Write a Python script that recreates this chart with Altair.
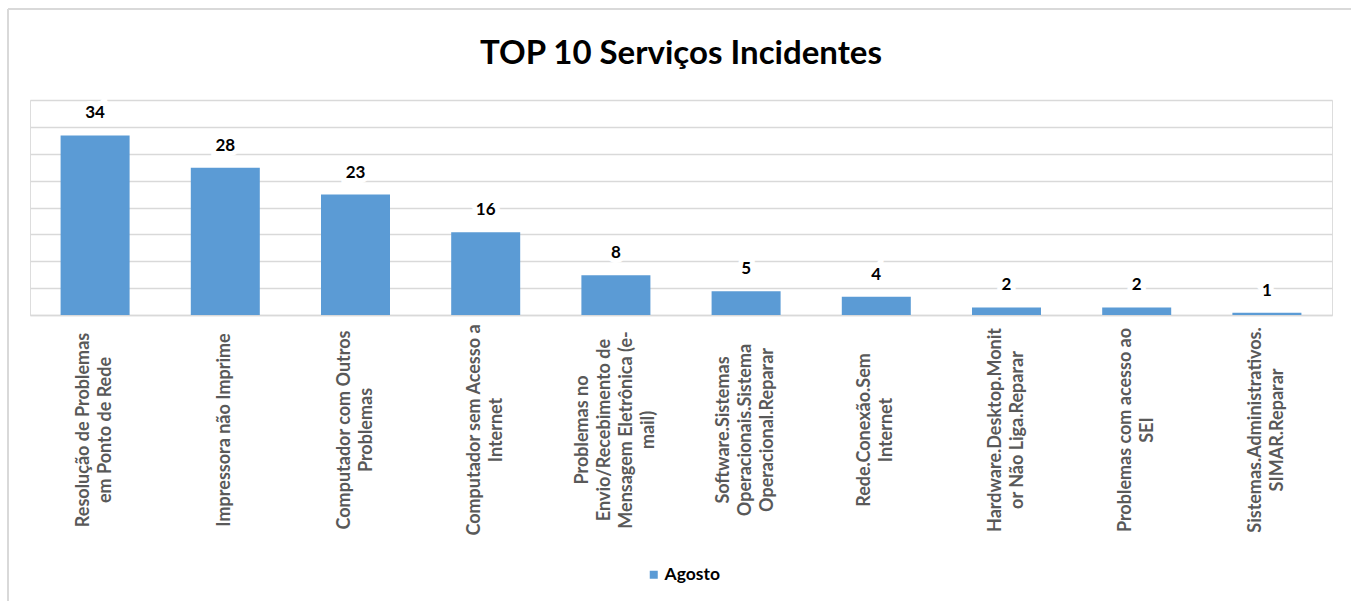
import altair as alt
import pandas as pd

categorias = [
    "Resolução de Problemas\nem Ponto de Rede",
    "Impressora não Imprime",
    "Computador com Outros\nProblemas",
    "Computador sem Acesso a\nInternet",
    "Problemas no\nEnvio/Recebimento de\nMensagem Eletrônica (e-\nmail)",
    "Software.Sistemas\nOperacionais.Sistema\nOperacional.Reparar",
    "Rede.Conexão.Sem\nInternet",
    "Hardware.Desktop.Monit\nor Não Liga.Reparar",
    "Problemas com acesso ao\nSEI",
    "Sistemas.Administrativos.\nSIMAR.Reparar",
]
valores = [34, 28, 23, 16, 8, 5, 4, 2, 2, 1]
serie = ["Agosto"] * len(categorias)
y_ticks = [0.6, 5.6, 10.6, 15.6, 20.6, 25.6, 30.6, 35.6, 40.6]

df = pd.DataFrame({"categoria": categorias, "valor": valores, "serie": serie})

W, H = 1302, 215
FONT = "Lato"
GRAY = "#595959"
GRID = "#D9D9D9"
LINE_H = 22
P_IN, P_OUT = 0.47, 0.235
STEP = W / (len(categorias) - P_IN + 2 * P_OUT)
BANDW = STEP * (1 - P_IN)

x_enc = alt.X(
    "categoria:N",
    sort=None,
    scale=alt.Scale(paddingInner=P_IN, paddingOuter=P_OUT),
    axis=alt.Axis(labels=False, ticks=False, title=None, domainColor=GRID, domainWidth=1.5),
)
y_scale = alt.Scale(domain=[0.6, 40.6], clamp=True, nice=False, zero=False)
y_enc = alt.Y(
    "valor:Q",
    scale=y_scale,
    axis=alt.Axis(values=y_ticks, tickCount=len(y_ticks), labels=False, ticks=False,
                  domain=False, title=None, gridColor=GRID, gridWidth=1.3),
)

base = alt.Chart(df)

bars = base.mark_bar(color="#5B9BD5").encode(
    x=x_enc,
    y=y_enc,
    color=alt.Color(
        "serie:N",
        scale=alt.Scale(range=["#5B9BD5"]),
        legend=alt.Legend(
            title=None, orient="none", legendX=615, legendY=466, padding=0,
            symbolType="square", symbolSize=64, symbolStrokeWidth=0,
            labelFont=FONT, labelFontSize=17.5, labelFontWeight="bold", labelColor="#000000",
            labelOffset=2,
        ),
    ),
)

halo = base.mark_text(
    font=FONT, fontSize=17, fontWeight="bold", dy=-22,
    stroke="white", strokeWidth=10, color="white",
).encode(x=x_enc, y=y_enc, text="valor:Q")

value_labels = base.mark_text(
    font=FONT, fontSize=17, fontWeight="bold", dy=-22, color="#000000",
).encode(x=x_enc, y=y_enc, text="valor:Q")

cat_labels = base.transform_calculate(
    desloc=f"{BANDW / 2} - (length(split(datum.categoria, '\\n')) - 1) * {LINE_H / 2}"
).mark_text(
    font=FONT, fontSize=18, fontWeight="bold", color=GRAY, angle=270,
    align="center", baseline="middle", lineBreak="\n", lineHeight=LINE_H,
).encode(
    x=x_enc,
    xOffset=alt.XOffset("desloc:Q", scale=None),
    y=alt.value(H + 115),
    text="categoria:N",
)

border_top = base.mark_rule(color=GRID, strokeWidth=1.5).encode(
    x=alt.value(-22), x2=alt.value(W + 19), y=alt.value(-91)
)
border_left = base.mark_rule(color=GRID, strokeWidth=1.5).encode(
    x=alt.value(-22), y=alt.value(-91), y2=alt.value(H + 286)
)

chart = alt.layer(border_top, border_left, bars, halo, value_labels, cat_labels).properties(
    width=W,
    height=H,
    title=alt.Title(
        "TOP 10 Serviços Incidentes", font=FONT, fontSize=33, fontWeight="bold",
        color="#000000", anchor="middle", offset=-63,
    ),
    padding={"left": 30, "top": 100, "right": 19, "bottom": 286},
    autosize=alt.AutoSizeParams(type="none"),
).configure_view(stroke=None).configure(background="white")

chart.save("out.html", embed_options={"renderer": "svg", "actions": False})
